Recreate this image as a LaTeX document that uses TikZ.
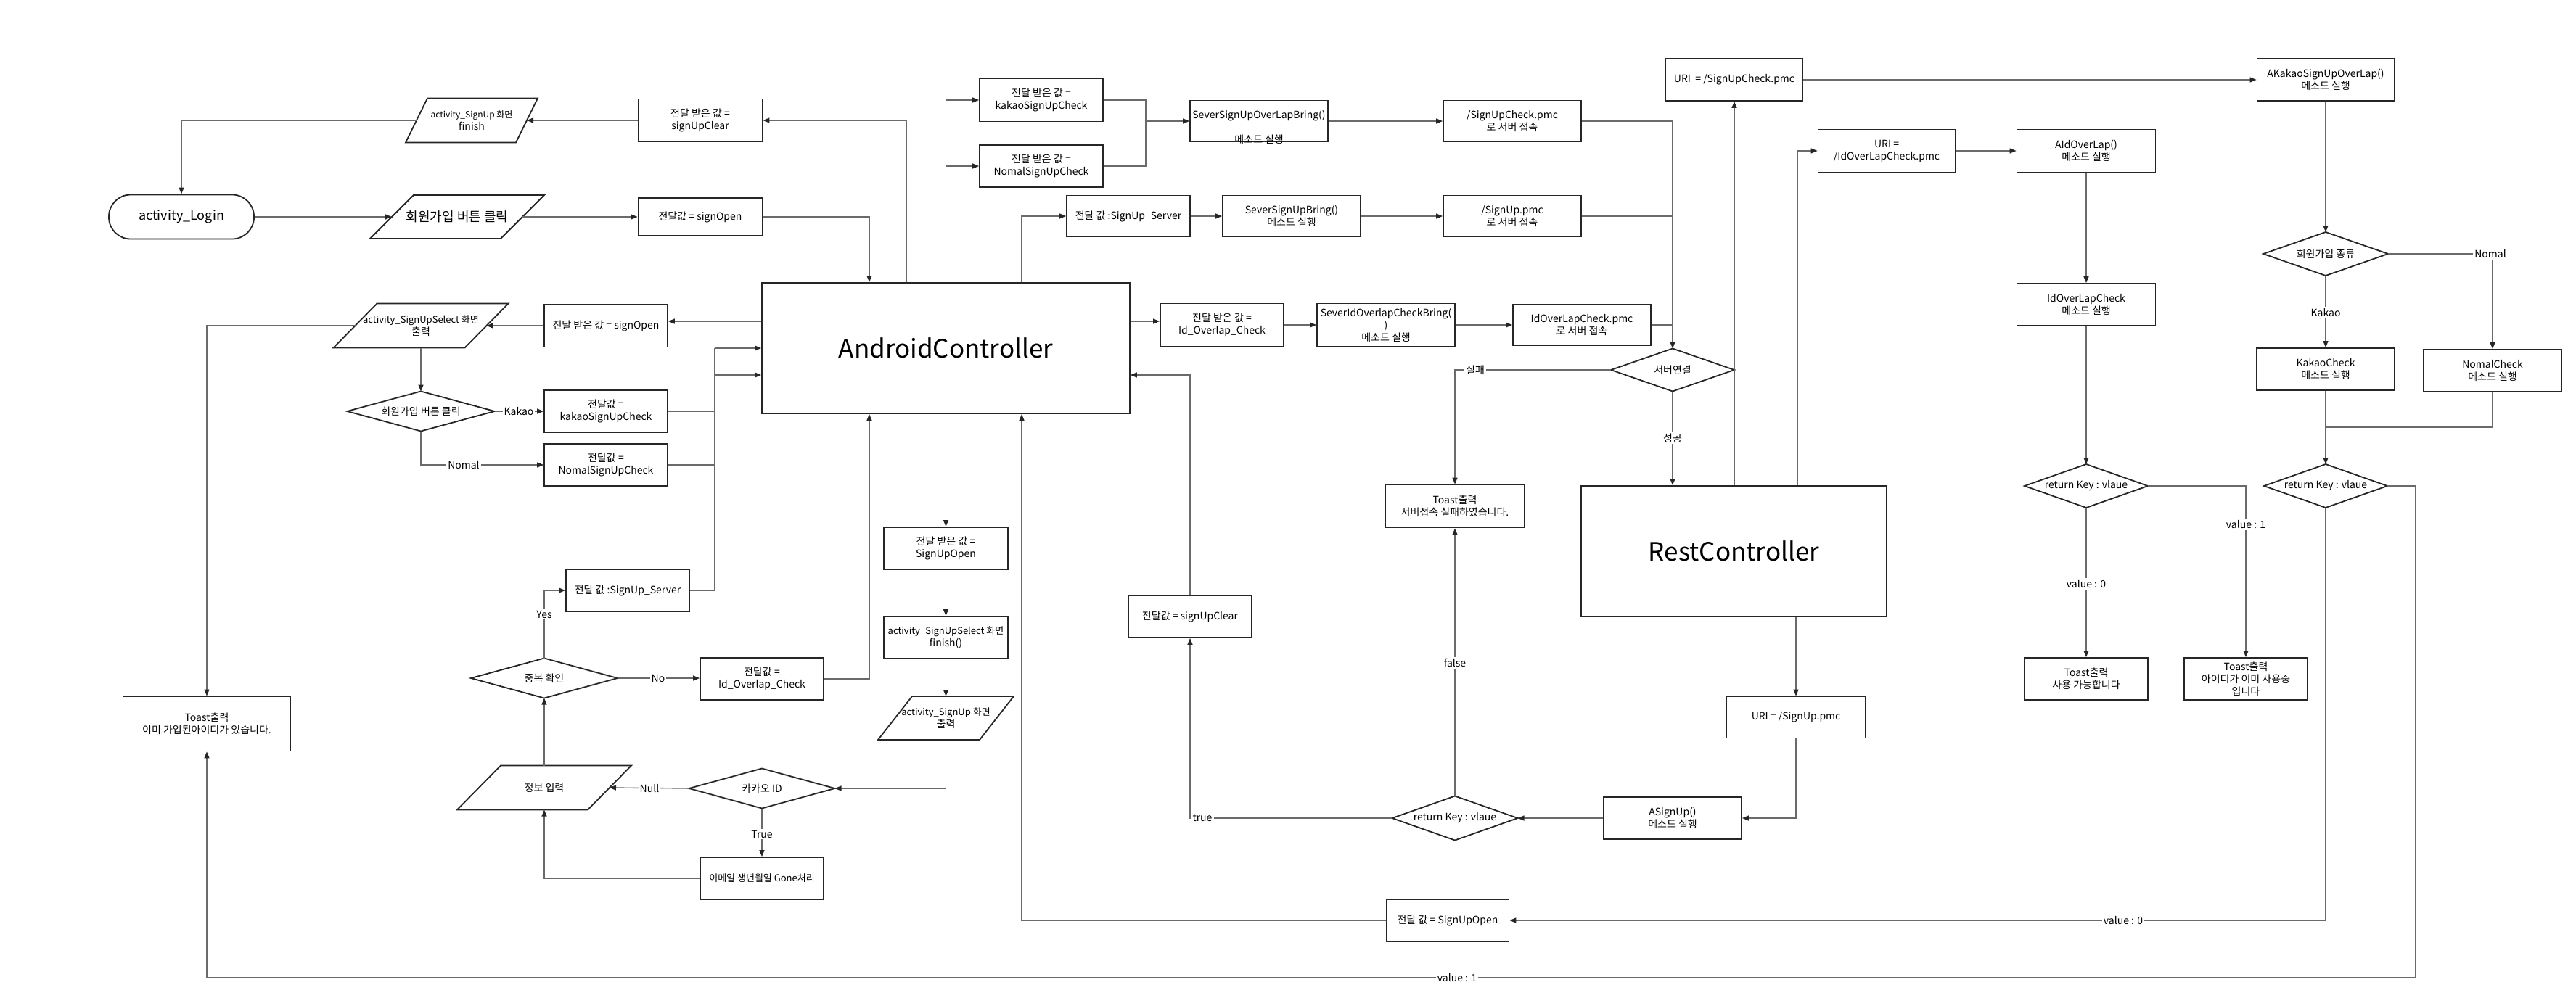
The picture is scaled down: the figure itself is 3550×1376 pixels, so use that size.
\documentclass[tikz,border=0pt]{standalone}
\usepackage{fontspec}
\setmainfont{Noto Sans CJK KR}
\usetikzlibrary{arrows.meta}
\definecolor{boxc}{HTML}{262626}
\definecolor{linec}{HTML}{6A6A6A}
\newcommand{\fsz}[2]{\fontsize{#1}{#2}\selectfont}
\tikzset{
 box/.style={draw=boxc, line width=1.8pt, align=center, inner sep=2pt, font=\fsz{14}{17}},
 shp/.style={draw=boxc, line width=1.8pt, line join=miter},
 txt/.style={align=center, inner sep=0pt, outer sep=0pt, font=\fsz{14}{17}},
 conn/.style={draw=linec, line width=1.4pt},
 arr/.style={conn, -{Triangle[length=9pt,width=7pt,color=black!85]}},
 lbl/.style={fill=white, inner sep=2pt, font=\fsz{14}{17}},
}
\newcommand{\bx}[6]{\node[box, minimum width=#4pt, minimum height=#5pt] (#1) at (#2,#3) {#6};}
\newcommand{\pg}[7]{%
 \draw[shp] ({#2-#4/2-#6/2},{#3+#5/2}) -- ({#2+#4/2-#6/2},{#3+#5/2}) -- ({#2+#4/2+#6/2},{#3-#5/2}) -- ({#2-#4/2+#6/2},{#3-#5/2}) -- cycle;
 \node[txt, minimum width=#4pt, minimum height=#5pt] (#1) at (#2,#3) {#7};}
\newcommand{\dm}[6]{%
 \draw[shp] (#2,{#3-#5/2}) -- ({#2+#4/2},#3) -- (#2,{#3+#5/2}) -- ({#2-#4/2},#3) -- cycle;
 \node[txt, minimum width=#4pt, minimum height=#5pt] (#1) at (#2,#3) {#6};}
\begin{document}
\begin{tikzpicture}[x=1pt,y=-1pt]
\path[fill=white] (0,0) rectangle (3550,1376);
\useasboundingbox (0,0) rectangle (3550,1376);
% ---------- left part
\node[box, rounded corners=30pt, minimum width=200pt, minimum height=61pt, font=\fsz{18}{21}] (login) at (250,299) {activity\_Login};
\pg{pFinish}{650}{166}{152}{61}{30}{\fsz{12}{15}activity\_SignUp 화면\\finish}
\pg{pJoin}{630}{299}{180}{60}{60}{\fsz{18}{21}회원가입 버튼 클릭}
\pg{pSelect}{580}{449}{181}{61}{60}{\fsz{13}{16}activity\_SignUpSelect 화면\\출력}
\pg{pInfo}{750}{1086}{180}{61}{60}{정보 입력}
\pg{pSignUp}{1303.5}{990}{140}{60}{47}{\fsz{13}{16}activity\_SignUp 화면\\출력}
\bx{rClear}{965}{166}{171}{59}{전달 받은 값 =\\signUpClear}
\bx{rOpen}{965}{299}{171}{52}{전달값 = signOpen}
\bx{rOpen2}{835}{449}{170}{59}{전달 받은 값 = signOpen}
\bx{kakaoV}{835}{567}{170}{58}{전달값 =\\kakaoSignUpCheck}
\bx{nomalV}{835}{641}{170}{58}{전달값 =\\NomalSignUpCheck}
\bx{server1}{865}{814}{170}{58}{전달 값 :SignUp\_Server}
\bx{idV}{1050}{936}{170}{58}{전달값 =\\Id\_Overlap\_Check}
\bx{toastA}{285}{998}{231}{75}{Toast출력\\이미 가입된아이디가 있습니다.}
\bx{gone}{1050}{1211}{170}{58}{\fsz{13}{16}이메일 생년월일 Gone처리}
\dm{dJoin}{580}{567}{203}{55}{회원가입 버튼 클릭}
\dm{dDup}{750}{935}{202}{55}{중복 확인}
\dm{dKakao}{1050}{1087}{201}{55}{카카오 ID}
% ---------- centre
\bx{ac}{1303.5}{480}{507}{180}{\fsz{35}{42}AndroidController}
\bx{kakaoR}{1435}{138}{170}{59}{전달 받은 값 =\\kakaoSignUpCheck}
\bx{nomalR}{1435}{229}{170}{58}{전달 받은 값 =\\NomalSignUpCheck}
\bx{overlapBring}{1735}{167}{190}{57}{}
\node[txt] (obText1) at (1735,160) {SeverSignUpOverLapBring()};
\node[txt] (obText2) at (1735,192) {메소드 실행};
\bx{pmcCheck}{2084}{167}{190}{57}{/SignUpCheck.pmc\\로 서버 접속}
\bx{server2}{1555}{298}{170}{57}{전달 값 :SignUp\_Server}
\bx{signUpBring}{1780}{298}{190}{57}{SeverSignUpBring()\\메소드 실행}
\bx{pmcSignUp}{2084}{298}{190}{57}{/SignUp.pmc\\로 서버 접속}
\bx{idR}{1684}{448}{170}{59}{전달 받은 값 =\\Id\_Overlap\_Check}
\bx{idBring}{1910}{448}{190}{59}{\fsz{14}{16}SeverIdOverlapCheckBring(\\)\\메소드 실행}
\bx{pmcId}{2180}{448}{190}{57}{IdOverLapCheck.pmc\\로 서버 접속}
\dm{dServer}{2305}{510}{170}{59}{서버연결}
\bx{toastB}{2005}{698}{191}{59}{Toast출력\\서버접속 실패하였습니다.}
\bx{rc}{2389.5}{760}{421}{180}{\fsz{35}{42}RestController}
\bx{openR}{1303.5}{756}{171}{58}{전달 받은 값 =\\SignUpOpen}
\bx{selFinish}{1303.5}{879}{171}{58}{\fsz{13}{16}activity\_SignUpSelect 화면\\finish()}
\bx{clearV}{1640}{850}{170}{58}{전달값 = signUpClear}
\dm{dRet1}{2005}{1128}{173}{61}{return Key : vlaue}
\bx{aSignUp}{2305}{1128}{190}{58}{ASignUp()\\메소드 실행}
\bx{uriSignUp}{2475}{989}{191}{57}{URI = /SignUp.pmc}
\bx{openV}{1995}{1269}{169}{58}{전달 값 = SignUpOpen}
% ---------- right
\bx{uriCheck}{2390}{110}{189}{58}{URI ~= /SignUpCheck.pmc}
\bx{aKakao}{3205}{110}{189}{58}{AKakaoSignUpOverLap()\\메소드 실행}
\bx{uriId}{2600}{208}{189}{59}{URI =\\/IdOverLapCheck.pmc}
\bx{aId}{2875}{208}{191}{59}{AIdOverLap()\\메소드 실행}
\bx{idCheck}{2875}{420}{191}{58}{IdOverLapCheck\\메소드 실행}
\dm{dType}{3205}{350}{172}{60}{회원가입 종류}
\bx{kCheck}{3205}{509}{190}{58}{KakaoCheck\\메소드 실행}
\bx{nCheck}{3435}{511}{190}{58}{NomalCheck\\메소드 실행}
\dm{dRet2}{2875}{670}{170}{60}{return Key : vlaue}
\dm{dRet3}{3205}{670}{170}{60}{return Key : vlaue}
\bx{toastC}{2875}{936}{170}{58}{Toast출력\\사용 가능합니다}
\bx{toastD}{3095}{936}{170}{58}{\fsz{14}{16}Toast출력\\아이디가 이미 사용중\\입니다}
% ---------- connectors
\draw[arr] (rClear.west) -- (pFinish.east);
\draw[arr] (pFinish.west) -| (login.north);
\draw[arr] (login.east) -- (pJoin.west);
\draw[arr] (pJoin.east) -- (rOpen.west);
\draw[arr] (rOpen.east) -| (ac.north -| 1198,0);
\draw[arr] (ac.north -| 1249,0) |- (rClear.east);
\draw[arr] (ac.north) |- (kakaoR.west);
\draw[arr] (ac.north) |- (nomalR.west);
\draw[arr] (ac.north -| 1408,0) |- (server2.west);
\coordinate (jOB) at (1579,167);
\draw[conn] (kakaoR.east) -| (jOB);
\draw[conn] (nomalR.east) -| (jOB);
\draw[arr] (jOB) -- (overlapBring.west);
\draw[arr] (overlapBring.east) -- (pmcCheck.west);
\draw[arr] (server2.east) -- (signUpBring.west);
\draw[arr] (signUpBring.east) -- (pmcSignUp.west);
\draw[arr] (pmcCheck.east) -| (dServer.north);
\draw[conn] (pmcSignUp.east) -- (pmcSignUp.east -| dServer.north);
\draw[conn] (pmcId.east) -- (pmcId.east -| dServer.north);
\draw[arr] (ac.east |- 0,443) -- (idR.west |- 0,443);
\draw[arr] (idR.east) -- (idBring.west);
\draw[arr] (idBring.east) -- (pmcId.west);
\draw[arr] (dServer.west) -| (toastB.north);
\draw[arr] (dServer.south) -- (dServer.south |- rc.north);
\draw[arr] (uriCheck.south |- rc.north) -- (uriCheck.south);
\draw[arr] (rc.north -| 2477,0) |- (uriId.west);
\draw[arr] (uriCheck.east) -- (aKakao.west);
\draw[arr] (uriId.east) -- (aId.west);
\draw[arr] (aId.south) -- (idCheck.north);
\draw[arr] (idCheck.south) -- (dRet2.north);
\draw[arr] (dRet2.south) -- (toastC.north);
\draw[arr] (dRet2.east) -| (toastD.north);
\draw[arr] (aKakao.south) -- (dType.north);
\draw[arr] (dType.east) -| (nCheck.north);
\draw[arr] (dType.south) -- (kCheck.north);
\draw[arr] (kCheck.south) -- (dRet3.north);
\draw[conn] (nCheck.south) |- (kCheck.south |- 0,589);
\draw[arr] (dRet3.south) |- (openV.east);
\coordinate (v1c) at (3329,1348);
\draw[arr] (dRet3.east) -| (v1c) -| (toastA.south);
\draw[arr] (openV.west) -| (ac.south -| 1408,0);
\draw[arr] (ac.south) -- (openR.north);
\draw[arr] (openR.south) -- (selFinish.north);
\draw[arr] (selFinish.south) -- (pSignUp.north);
\draw[arr] (pSignUp.south) |- (dKakao.east);
\draw[arr] (dKakao.west) -- (pInfo.east);
\draw[arr] (dKakao.south) -- (gone.north);
\draw[arr] (gone.west) -| (pInfo.south);
\draw[arr] (pInfo.north) -- (dDup.south);
\draw[arr] (dDup.east) -- (idV.west |- dDup.east);
\draw[arr] (idV.east) -| (ac.south -| 1198,0);
\draw[arr] (dDup.north) |- (server1.west);
\coordinate (bA) at (985,480);
\coordinate (bB) at (985,517);
\draw[conn] (server1.east) -| (bA);
\draw[conn] (kakaoV.east) -- (kakaoV.east -| bA);
\draw[conn] (nomalV.east) -- (nomalV.east -| bA);
\draw[arr] (bA) -- (ac.west |- bA);
\draw[arr] (bB) -- (ac.west |- bB);
\draw[arr] (ac.west |- 0,443) -- (rOpen2.east |- 0,443);
\draw[arr] (rOpen2.west) -- (pSelect.east);
\draw[arr] (pSelect.west) -| (toastA.north);
\draw[arr] (pSelect.south) -- (dJoin.north);
\draw[arr] (dJoin.east) -- (kakaoV.west);
\draw[arr] (dJoin.south) |- (nomalV.west);
\draw[arr] (clearV.north) |- (ac.east |- 0,517);
\draw[arr] (dRet1.west) -| (clearV.south);
\draw[arr] (dRet1.north) -- (toastB.south);
\draw[arr] (aSignUp.west) -- (dRet1.east);
\draw[arr] (uriSignUp.south) |- (aSignUp.east);
\draw[arr] (uriSignUp.north |- rc.south) -- (uriSignUp.north);
% ---------- labels
\node[lbl] (lKakao1) at (715,567) {Kakao};
\node[lbl] (lNomal1) at (639,641) {Nomal};
\node[lbl] (lYes) at (750,847) {Yes};
\node[lbl] (lNo) at (907,935) {No};
\node[lbl] (lNull) at (895,1087) {Null};
\node[lbl] (lTrue) at (1050,1150) {True};
\node[lbl] (lFail) at (2033,510) {실패};
\node[lbl] (lOk) at (2305,604) {성공};
\node[lbl] (lfalse) at (2005,914) {false};
\node[lbl] (ltrue) at (1657,1128) {true};
\node[lbl] (lNomal2) at (3432,350) {Nomal};
\node[lbl] (lKakao2) at (3205,431) {Kakao};
\node[lbl] (lv0a) at (2875,805) {value : 0};
\node[lbl] (lv1a) at (3095,723) {value : 1};
\node[lbl] (lv0b) at (2926,1269) {value : 0};
\node[lbl] (lv1b) at (2008,1348) {value : 1};
\end{tikzpicture}
\end{document}
